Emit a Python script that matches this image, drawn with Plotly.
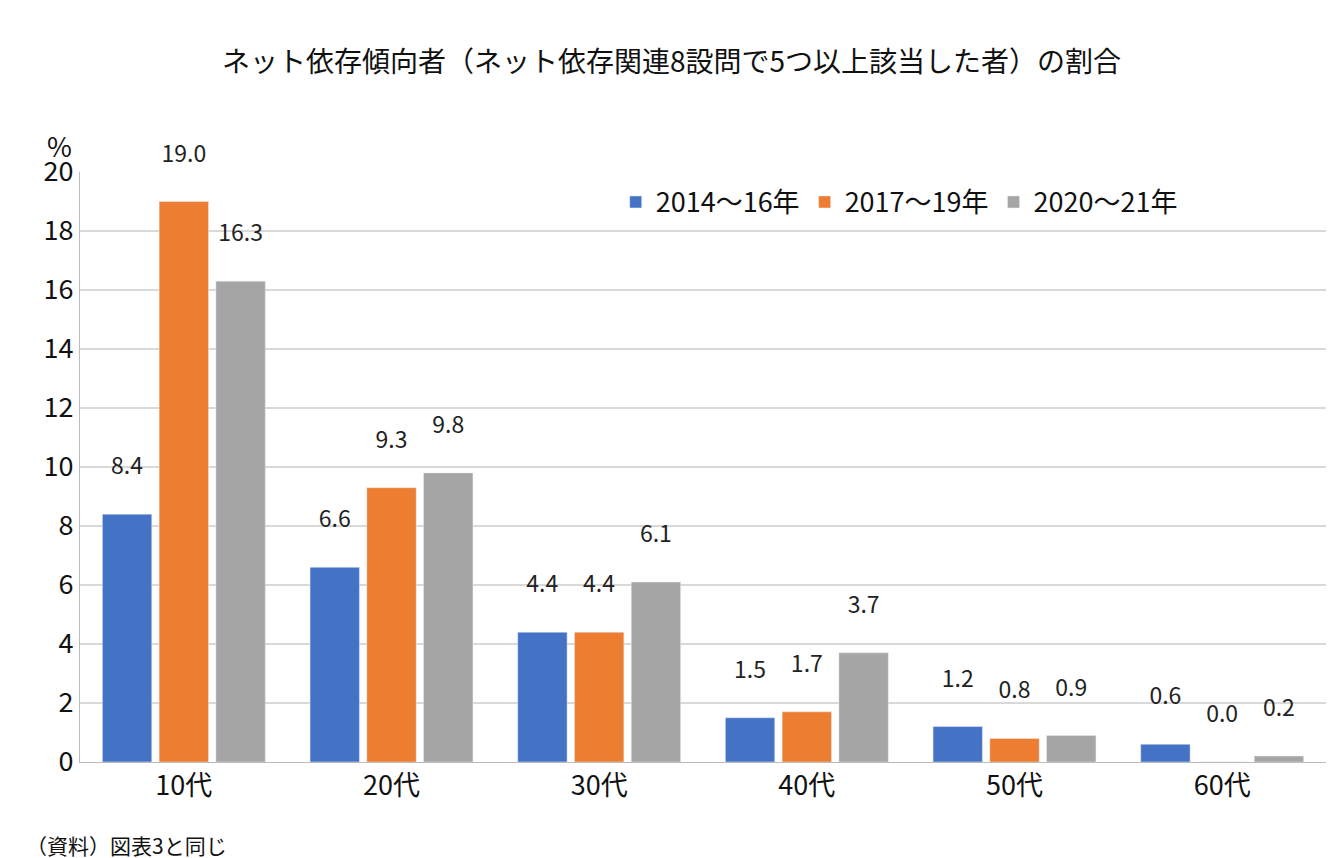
import plotly.graph_objects as go

ages = ["10代", "20代", "30代", "40代", "50代", "60代"]
s2014 = [8.4, 6.6, 4.4, 1.5, 1.2, 0.6]
s2017 = [19.0, 9.3, 4.4, 1.7, 0.8, 0.0]
s2020 = [16.3, 9.8, 6.1, 3.7, 0.9, 0.2]
series = [("2014～16年", s2014, "#4472c4"),
          ("2017～19年", s2017, "#ed7d31"),
          ("2020～21年", s2020, "#a5a5a5")]

font = "Noto Sans CJK JP"
fig = go.Figure()
for name, vals, col in series:
    fig.add_trace(go.Bar(
        x=ages, y=vals, name=name, marker_color=col,
        text=[f"{v:.1f}<br> " for v in vals], textposition="outside",
        textfont=dict(size=23, color="#222"), cliponaxis=False,
    ))

fig.update_layout(
    width=1340, height=858, plot_bgcolor="white", paper_bgcolor="white",
    font=dict(family=font, color="#111"),
    margin=dict(l=72, r=22, t=164, b=104, autoexpand=False),
    barmode="group", bargap=0.18, bargroupgap=0.13,
    xaxis=dict(tickfont=dict(size=27), showline=True, linecolor="#bbb", ticks=""),
    yaxis=dict(range=[0, 20], dtick=2, tickfont=dict(size=27),
               gridcolor="#d9d9d9", gridwidth=2, showline=True, linecolor="#bbb",
               ticks="", zeroline=False),
    legend=dict(orientation="h", x=0.885, xanchor="right", y=0.99, yanchor="top",
                font=dict(size=27), itemwidth=30, bgcolor="rgba(0,0,0,0)"),
)
fig.add_annotation(text="<b>図表5</b>", xref="paper", yref="paper", x=-0.05, y=1.345,
                   xanchor="left", yanchor="middle", showarrow=False,
                   font=dict(size=34, color="white"), bgcolor="black", borderpad=3)
fig.add_annotation(text="<b>コロナ以後、中年にも広がってきたネット依存</b>", xref="paper", yref="paper",
                   x=0.055, y=1.345, xanchor="left", yanchor="middle", showarrow=False,
                   font=dict(size=39, color="black"))
fig.add_annotation(text="ネット依存傾向者（ネット依存関連8設問で5つ以上該当した者）の割合",
                   xref="paper", yref="paper", x=0.475, y=1.19, xanchor="center",
                   yanchor="middle", showarrow=False, font=dict(size=28))
fig.add_annotation(text="%", xref="paper", yref="paper", x=-0.005, y=1.045,
                   xanchor="right", yanchor="middle", showarrow=False, font=dict(size=27))
fig.add_annotation(text="（資料）図表3と同じ", xref="paper", yref="paper", x=-0.045, y=-0.14,
                   xanchor="left", yanchor="middle", showarrow=False, font=dict(size=21))

fig.write_html("out.html")
